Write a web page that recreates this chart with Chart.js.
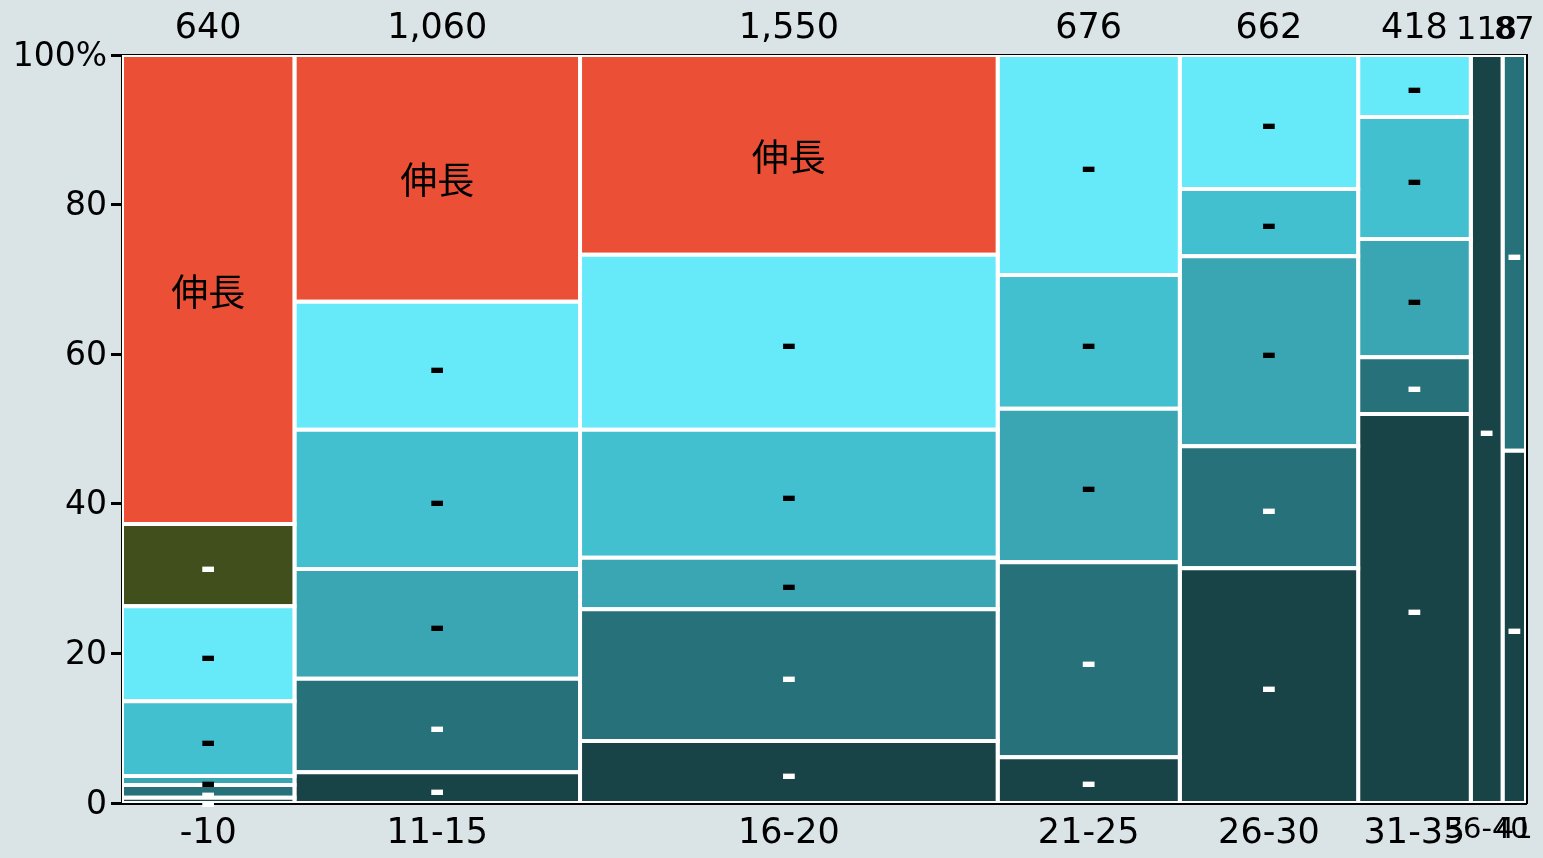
<!DOCTYPE html>
<html>
<head>
<meta charset="utf-8">
<script src="https://cdn.jsdelivr.net/npm/chart.js@4"></script>
<style>
  html, body { margin: 0; padding: 0; background: #dae3e6; }
  canvas { display: block; }
</style>
</head>
<body>
<canvas id="mosaic" width="1543" height="858"></canvas>
<script>
// columns (x widths follow the counts)
const ageGroups = ['-10', '11-15', '16-20', '21-25', '26-30', '31-35', '36-40', '41'];
const groupCounts = [640, 1060, 1550, 676, 662, 418, 118, 87];

// segments, stacked bottom -> top, share of each column in %
const segmentNames = ['-', '-', '-', '-', '-', '-', '伸長'];
const segmentColors = ['#184347', '#26717a', '#3aa6b4', '#43c0d0', '#66e9f9', '#404f1b', '#eb4f35'];
const labelColors = ['#fff', '#fff', '#000', '#000', '#000', '#fff', '#000'];

const shareDarkest = [0.7, 4.1, 8.3, 6.1, 31.4, 52.0, 100, 47.1];
const shareDarkTeal = [1.7, 12.5, 17.6, 26.1, 16.3, 7.6, 0, 52.9];
const shareTeal = [1.2, 14.7, 6.9, 20.5, 25.4, 15.8, 0, 0];
const shareMedium = [10.0, 18.6, 17.1, 17.9, 9.0, 16.3, 0, 0];
const shareLight = [12.7, 17.1, 23.4, 29.4, 17.9, 8.3, 0, 0];
const shareOlive = [11.0, 0, 0, 0, 0, 0, 0, 0];
const shareRed = [62.7, 33.0, 26.7, 0, 0, 0, 0, 0];

const yTicks = [0, 20, 40, 60, 80, 100];

const shares = [shareDarkest, shareDarkTeal, shareTeal, shareMedium, shareLight, shareOlive, shareRed];

const total = groupCounts.reduce((a, b) => a + b, 0);
let edges = [0];
for (const c of groupCounts) edges.push(edges[edges.length - 1] + c);
const centers = groupCounts.map((c, i) => edges[i] + c / 2);

// one closed line per cell, filled as a shape
let datasets = [];
let cellLabels = [];
for (let i = 0; i < ageGroups.length; i++) {
    let y0 = 0;
    for (let s = 0; s < shares.length; s++) {
        const v = shares[s][i];
        if (!(v > 0)) continue;
        const y1 = y0 + v;
        datasets.push({
            data: [
                { x: edges[i], y: y0 }, { x: edges[i + 1], y: y0 },
                { x: edges[i + 1], y: y1 }, { x: edges[i], y: y1 },
                { x: edges[i], y: y0 },
            ],
            backgroundColor: segmentColors[s],
            borderColor: '#ffffff',
            borderWidth: 4,
            borderJoinStyle: 'miter',
            fill: 'shape',
            pointRadius: 0,
            tension: 0,
        });
        cellLabels.push({ x: centers[i], y: (y0 + y1) / 2, text: segmentNames[s], color: labelColors[s] });
        y0 = y1;
    }
}

const cellLabelPlugin = {
    id: 'cellLabels',
    afterDatasetsDraw(chart) {
        const ctx = chart.ctx;
        const xs = chart.scales.x, ys = chart.scales.y;
        ctx.save();
        ctx.textAlign = 'center';
        ctx.textBaseline = 'middle';
        for (const l of cellLabels) {
            const dash = l.text === '-';
            ctx.fillStyle = l.color;
            ctx.font = dash ? 'bold 38px "DejaVu Sans"' : '37px "Noto Sans CJK JP"';
            ctx.fillText(l.text, xs.getPixelForValue(l.x), ys.getPixelForValue(l.y) + (dash ? 5 : 2));
        }
        ctx.restore();
    }
};

const narrowFont = (ctx, big, small) => ({ family: '"DejaVu Sans"', size: ctx.index >= 6 ? small : big });

new Chart(document.getElementById('mosaic'), {
    type: 'line',
    data: { datasets: datasets },
    options: {
        responsive: false,
        animation: false,
        layout: { padding: 0 },
        plugins: { legend: { display: false }, tooltip: { enabled: false } },
        scales: {
            x: {
                type: 'linear', position: 'bottom', min: 0, max: total, z: 1,
                afterBuildTicks: s => { s.ticks = centers.map(v => ({ value: v })); },
                afterFit: s => { s.height = 55; },
                grid: { display: false, drawTicks: false },
                border: { display: true, color: '#000', width: 3 },
                ticks: {
                    autoSkip: false, maxRotation: 0, padding: 10, color: '#000',
                    font: ctx => narrowFont(ctx, 35, 29),
                    callback: (v, i) => ageGroups[i],
                },
            },
            x2: {
                type: 'linear', position: 'top', min: 0, max: total, z: 1,
                afterBuildTicks: s => { s.ticks = centers.map(v => ({ value: v })); },
                afterFit: s => { s.height = 55; },
                grid: { display: false, drawTicks: false },
                border: { display: true, color: '#000', width: 3 },
                ticks: {
                    autoSkip: false, maxRotation: 0, padding: 5, color: '#000',
                    font: ctx => narrowFont(ctx, 35, 32),
                    callback: (v, i) => groupCounts[i].toLocaleString('en-US'),
                },
            },
            y: {
                type: 'linear', position: 'left', min: 0, max: 100, z: 1,
                afterBuildTicks: s => { s.ticks = yTicks.map(v => ({ value: v })); },
                afterFit: s => { s.width = 122; },
                grid: { drawOnChartArea: false, color: '#000', lineWidth: 3, tickLength: 11 },
                border: { display: true, color: '#000', width: 3 },
                ticks: {
                    padding: 4, labelOffset: 2, color: '#000', font: { family: '"DejaVu Sans"', size: 33 },
                    callback: v => v === 100 ? '100%' : String(v),
                },
            },
            y2: {
                type: 'linear', position: 'right', min: 0, max: 100, z: 1,
                afterFit: s => { s.width = 17; },
                grid: { display: false, drawTicks: false },
                border: { display: true, color: '#000', width: 3 },
                ticks: { display: false },
            },
        },
    },
    plugins: [cellLabelPlugin],
});
</script>
</body>
</html>
